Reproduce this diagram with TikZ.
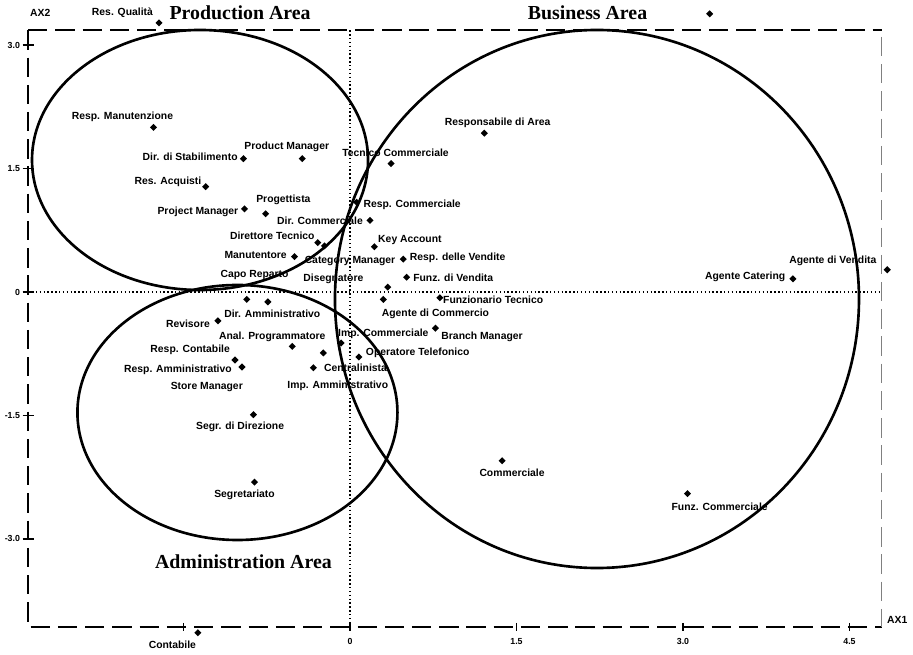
\documentclass[tikz,border=0pt]{standalone}
\usepackage{fontspec}
\setmainfont{Liberation Serif}
\setsansfont{Liberation Sans}
\usepackage{tikz}
\usetikzlibrary{shapes.geometric}

\begin{document}
\begin{tikzpicture}[
    x=2.22cm, y=1.646cm,
    pt/.style={diamond, fill=black, inner sep=0pt, minimum size=4.2pt},
    lbl/.style={font=\sffamily\bfseries\fontsize{5.9}{6}\selectfont, inner sep=0pt},
    ticklbl/.style={font=\sffamily\bfseries\fontsize{5}{6}\selectfont, inner sep=0pt},
    areatitle/.style={font=\bfseries\fontsize{11.3}{13}\selectfont, inner sep=0pt},
    frame/.style={line width=1.1pt, dash pattern=on 11pt off 4.5pt},
    axis/.style={line width=0.6pt, dash pattern=on 0.8pt off 1.4pt},
    area/.style={line width=1.5pt},
]
\useasboundingbox (-3.153,-4.399) rectangle (5.072,3.548);

% Frame
\draw[frame] (-2.90,3.18) -- (4.79,3.18);
\draw[frame] (-2.90,3.18) -- (-2.90,-4.07) -- (4.79,-4.07);
\draw[line width=0.6pt, gray, dash pattern=on 11pt off 4.5pt] (4.79,3.10) -- (4.79,-4.07);

% Axes
\draw[axis] (-2.90,0) -- (4.79,0);
\draw[axis] (0,3.18) -- (0,-4.07);

% Ticks
\draw[line width=0.8pt] (-2.95,3) -- (-2.85,3);
\draw[line width=0.8pt] (-2.95,1.5) -- (-2.85,1.5);
\draw[line width=0.8pt] (-2.95,0) -- (-2.85,0);
\draw[line width=0.8pt] (-2.95,-1.5) -- (-2.85,-1.5);
\draw[line width=0.8pt] (-2.95,-3) -- (-2.85,-3);
\draw[line width=0.8pt] (-1.5,-4.02) -- (-1.5,-4.12);
\draw[line width=0.8pt] (0,-4.02) -- (0,-4.12);
\draw[line width=0.8pt] (1.5,-4.02) -- (1.5,-4.12);
\draw[line width=0.8pt] (3,-4.02) -- (3,-4.12);
\draw[line width=0.8pt] (4.5,-4.02) -- (4.5,-4.12);

% Tick labels
\node[ticklbl, anchor=east] (y3) at (-2.97,3) {3.0};
\node[ticklbl, anchor=east] (y15) at (-2.97,1.5) {1.5};
\node[ticklbl, anchor=east] (y0) at (-2.97,0) {0};
\node[ticklbl, anchor=east] (ym15) at (-2.97,-1.5) {-1.5};
\node[ticklbl, anchor=east] (ym3) at (-2.97,-3) {-3.0};
\node[ticklbl] (x0) at (0,-4.25) {0};
\node[ticklbl] (x15) at (1.5,-4.25) {1.5};
\node[ticklbl] (x3) at (3,-4.25) {3.0};
\node[ticklbl] (x45) at (4.5,-4.25) {4.5};
\node[lbl] (ax2) at (-2.79,3.39) {AX2};
\node[lbl] (ax1) at (4.93,-3.99) {AX1};

% Areas
\coordinate (prodc) at (-1.351,1.604);
\coordinate (adminc) at (-1.014,-1.464);
\coordinate (busc) at (2.225,-0.085);
\draw[area] (prodc) ellipse [x radius=3.36cm, y radius=2.6cm];
\draw[area] (adminc) ellipse [x radius=3.2cm, y radius=2.55cm];
\draw[area] (busc) ellipse [x radius=5.24cm, y radius=5.38cm];

\node[areatitle] (prodt) at (-0.99,3.39) {Production Area};
\node[areatitle] (bust) at (2.14,3.39) {Business Area};
\node[areatitle] (admint) at (-0.96,-3.28) {Administration Area};

% Production side
\node[pt] (resqual) at (-1.72,3.27) {};
\node[lbl] (resquall) at (-2.05,3.39) {Res. Qualità};
\node[pt] (respmanut) at (-1.77,2.00) {};
\node[lbl] (respmanutl) at (-2.05,2.13) {Resp. Manutenzione};
\node[pt] (dirstab) at (-0.96,1.62) {};
\node[lbl] (dirstabl) at (-1.44,1.64) {Dir. di Stabilimento};
\node[pt] (prodmgr) at (-0.43,1.62) {};
\node[lbl] (prodmgrl) at (-0.57,1.76) {Product Manager};
\node[pt] (resacq) at (-1.30,1.28) {};
\node[lbl] (resacql) at (-1.64,1.34) {Res. Acquisti};
\node[pt] (progett) at (-0.76,0.95) {};
\node[lbl] (progettl) at (-0.60,1.12) {Progettista};
\node[pt] (projmgr) at (-0.95,1.01) {};
\node[lbl] (projmgrl) at (-1.37,0.98) {Project Manager};
\node[pt] (dirtec) at (-0.29,0.60) {};
\node[lbl] (dirtecl) at (-0.70,0.68) {Direttore Tecnico};
\node[pt] (manut) at (-0.50,0.43) {};
\node[lbl] (manutl) at (-0.85,0.45) {Manutentore};
\node[lbl] (caporepl) at (-0.86,0.21) {Capo Reparto};

% Business side
\node[pt] (resparea) at (1.21,1.93) {};
\node[lbl] (respareal) at (1.33,2.05) {Responsabile di Area};
\node[pt] (teccomm) at (0.37,1.56) {};
\node[lbl] (teccomml) at (0.41,1.69) {Tecnico Commerciale};
\node[pt] (respcomm) at (0.06,1.09) {};
\node[lbl] (respcomml) at (0.56,1.06) {Resp. Commerciale};
\node[pt] (dircomm) at (0.18,0.87) {};
\node[lbl] (dircomml) at (-0.27,0.86) {Dir. Commerciale};
\node[pt] (catmgr) at (-0.23,0.56) {};
\node[lbl] (catmgrl) at (0.00,0.38) {Category Manager};
\node[pt] (keyacc) at (0.22,0.55) {};
\node[lbl] (keyaccl) at (0.54,0.63) {Key Account};
\node[pt] (respvend) at (0.48,0.40) {};
\node[lbl] (respvendl) at (0.97,0.41) {Resp. delle Vendite};
\node[pt] (funzvend) at (0.51,0.18) {};
\node[lbl] (funzvendl) at (0.93,0.17) {Funz. di Vendita};
\node[pt] (disegn) at (0.34,0.06) {};
\node[lbl] (disegnl) at (-0.15,0.16) {Disegnatore};
\node[pt] (agcomm) at (0.30,-0.09) {};
\node[lbl] (agcomml) at (0.77,-0.26) {Agente di Commercio};
\node[pt] (funztec) at (0.81,-0.07) {};
\node[lbl] (funztecl) at (1.29,-0.09) {Funzionario Tecnico};
\node[pt] (impcomm) at (-0.08,-0.62) {};
\node[lbl] (impcomml) at (0.30,-0.51) {Imp. Commerciale};
\node[pt] (branch) at (0.77,-0.44) {};
\node[lbl] (branchl) at (1.19,-0.55) {Branch Manager};
\node[pt] (optel) at (0.08,-0.79) {};
\node[lbl] (optell) at (0.61,-0.74) {Operatore Telefonico};
\node[pt] (agcater) at (3.99,0.16) {};
\node[lbl] (agcaterl) at (3.56,0.18) {Agente Catering};
\node[pt] (agvend) at (4.84,0.27) {};
\node[lbl] (agvendl) at (4.35,0.38) {Agente di Vendita};
\node[pt] (commerc) at (1.37,-2.05) {};
\node[lbl] (commercl) at (1.46,-2.20) {Commerciale};
\node[pt] (funzcomm) at (3.04,-2.45) {};
\node[lbl] (funzcomml) at (3.33,-2.61) {Funz. Commerciale};
\node[pt] (stray) at (3.24,3.38) {};

% Administration side
\node[pt] (unnamed) at (-0.93,-0.09) {};
\node[pt] (diramm) at (-0.74,-0.12) {};
\node[lbl] (diramml) at (-0.70,-0.26) {Dir. Amministrativo};
\node[pt] (revis) at (-1.19,-0.35) {};
\node[lbl] (revisl) at (-1.46,-0.39) {Revisore};
\node[pt] (analprog) at (-0.52,-0.66) {};
\node[lbl] (analprogl) at (-0.70,-0.55) {Anal. Programmatore};
\node[pt] (respcont) at (-1.036,-0.826) {};
\node[lbl] (respcontl) at (-1.44,-0.70) {Resp. Contabile};
\node[pt] (respamm) at (-0.973,-0.911) {};
\node[lbl] (respamml) at (-1.55,-0.95) {Resp. Amministrativo};
\node[lbl] (storemgrl) at (-1.29,-1.15) {Store Manager};
\node[pt] (impamm) at (-0.24,-0.74) {};
\node[lbl] (impamml) at (-0.11,-1.14) {Imp. Amministrativo};
\node[pt] (centr) at (-0.33,-0.92) {};
\node[lbl] (centrl) at (0.05,-0.92) {Centralinista};
\node[pt] (segrdir) at (-0.87,-1.49) {};
\node[lbl] (segrdirl) at (-0.99,-1.64) {Segr. di Direzione};
\node[pt] (segret) at (-0.86,-2.31) {};
\node[lbl] (segretl) at (-0.95,-2.47) {Segretariato};
\node[pt] (contab) at (-1.37,-4.14) {};
\node[lbl] (contabl) at (-1.60,-4.29) {Contabile};

\end{tikzpicture}
\end{document}
